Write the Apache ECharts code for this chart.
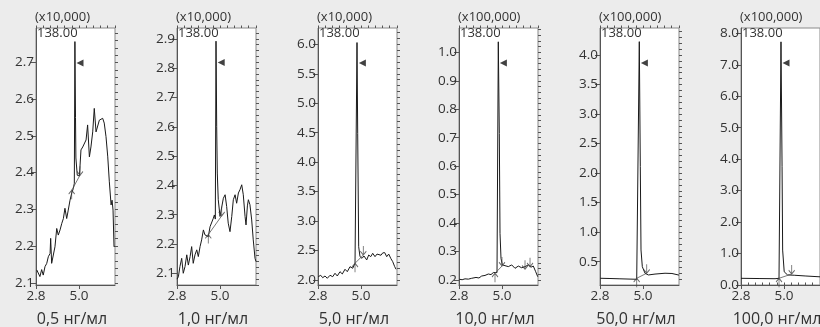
<!DOCTYPE html>
<html><head><meta charset="utf-8">
<script src="https://cdn.jsdelivr.net/npm/echarts@6/dist/echarts.min.js"></script>
<style>html,body{margin:0;padding:0;background:#ececec}#c{width:820px;height:327px}</style>
</head><body><div id="c"></div>
<script>
// ---------- data ----------
const concLabels = ['0,5 нг/мл','1,0 нг/мл','5,0 нг/мл','10,0 нг/мл','50,0 нг/мл','100,0 нг/мл'];
const scaleLabels = ['(x10,000)','(x10,000)','(x10,000)','(x100,000)','(x100,000)','(x100,000)'];
const ionLabel = '138.00';
const xTickLabels = [2.8, 5.0];

const p1YTicks = [2.1,2.2,2.3,2.4,2.5,2.6,2.7];
const p2YTicks = [2.1,2.2,2.3,2.4,2.5,2.6,2.7,2.8,2.9];
const p3YTicks = [2.0,2.5,3.0,3.5,4.0,4.5,5.0,5.5,6.0];
const p4YTicks = [0.2,0.3,0.4,0.5,0.6,0.7,0.8,0.9,1.0];
const p5YTicks = [0.5,1.0,1.5,2.0,2.5,3.0,3.5,4.0];
const p6YTicks = [0.0,1.0,2.0,3.0,4.0,5.0,6.0,7.0,8.0];

const p1Time = [2.84,2.92,3.00,3.09,3.17,3.26,3.35,3.43,3.52,3.55,3.60,3.69,3.77,3.86,3.94,4.03,4.12,4.20,4.28,4.37,4.45,4.54,4.63,4.71,4.76,4.79,4.82,4.84,4.91,5.02,5.10,5.19,5.27,5.36,5.44,5.53,5.61,5.70,5.78,5.87,5.96,6.04,6.13,6.21,6.29,6.38,6.47,6.55,6.64,6.69,6.74,6.79,6.83];
const p1Signal = [2.135,2.139,2.117,2.136,2.121,2.144,2.153,2.171,2.180,2.221,2.153,2.157,2.198,2.248,2.230,2.244,2.262,2.275,2.303,2.275,2.298,2.325,2.345,2.357,2.371,2.757,2.550,2.440,2.393,2.391,2.462,2.470,2.466,2.489,2.530,2.443,2.470,2.511,2.575,2.511,2.516,2.543,2.539,2.548,2.535,2.498,2.443,2.375,2.312,2.325,2.298,2.198,2.200];

const p2Time = [2.80,2.87,2.95,3.04,3.12,3.21,3.30,3.38,3.47,3.55,3.63,3.72,3.81,3.89,3.98,4.06,4.15,4.23,4.32,4.40,4.49,4.58,4.66,4.71,4.76,4.795,4.83,4.86,4.91,5.00,5.09,5.17,5.26,5.34,5.42,5.51,5.60,5.68,5.77,5.85,5.94,6.02,6.11,6.19,6.28,6.33,6.40,6.45,6.53,6.62,6.70,6.79,6.84];
const p2Signal = [2.080,2.088,2.123,2.151,2.100,2.123,2.163,2.128,2.157,2.191,2.134,2.163,2.180,2.157,2.191,2.214,2.248,2.231,2.237,2.225,2.259,2.262,2.288,2.299,2.285,2.892,2.600,2.442,2.351,2.294,2.299,2.356,2.368,2.328,2.271,2.242,2.294,2.351,2.368,2.339,2.374,2.385,2.402,2.368,2.294,2.265,2.330,2.351,2.334,2.282,2.214,2.151,2.140];

const p3Time = [2.815,2.938,3.04,3.158,3.276,3.414,3.552,3.67,3.787,3.925,4.043,4.181,4.299,4.437,4.575,4.693,4.76,4.795,4.83,4.88,4.948,5.051,5.153,5.291,5.393,5.496,5.598,5.716,5.818,5.905,6.022,6.109,6.212,6.314,6.416,6.519,6.621,6.723,6.79];
const p3Signal = [2.056,2.080,2.039,2.068,2.029,2.080,2.056,2.114,2.068,2.141,2.102,2.182,2.141,2.226,2.199,2.284,2.270,6.030,4.490,2.565,2.396,2.368,2.407,2.340,2.424,2.396,2.453,2.396,2.440,2.470,2.420,2.460,2.464,2.396,2.440,2.368,2.311,2.226,2.182];

const p4Time = [2.815,2.96,3.107,3.28,3.45,3.67,3.82,3.961,4.13,4.299,4.437,4.554,4.641,4.744,4.81,4.861,4.897,4.948,5.015,5.117,5.322,5.496,5.664,5.833,6.007,6.176,6.345,6.483,6.60,6.723,6.826];
const p4Signal = [0.2025,0.201,0.204,0.203,0.206,0.209,0.207,0.214,0.216,0.221,0.219,0.226,0.2235,0.226,1.037,0.715,0.364,0.276,0.253,0.247,0.247,0.253,0.241,0.249,0.243,0.247,0.253,0.245,0.249,0.229,0.2116];

const p5Time = [2.815,3.31,3.82,4.335,4.677,4.77,4.81,4.861,4.897,4.964,5.102,5.27,5.613,6.125,6.48,6.805,6.84];
const p5Signal = [0.219,0.215,0.210,0.205,0.202,0.210,4.226,2.109,0.698,0.415,0.304,0.275,0.290,0.304,0.300,0.275,0.270];

const p6Time = [2.80,3.77,4.54,4.744,4.80,4.845,4.90,4.93,5.01,5.18,5.52,6.12,6.84];
const p6Signal = [0.213,0.205,0.200,0.213,0.250,7.730,3.760,1.110,0.420,0.320,0.310,0.286,0.260];

// peak-top arrow markers [time, value]
const peakMarkTime = [5.05,5.06,5.07,5.07,5.07,5.10];
const peakMarkValue = [2.699,2.819,5.684,0.9625,3.865,7.057];
// integration start / end points [time, value]
const intStartTime = [4.626,4.40,4.693,4.641,4.677,4.744];
const intStartValue = [2.352,2.232,2.284,0.2235,0.219,0.213];
const intEndTime = [5.05,5.086,5.117,4.999,5.189,5.393];
const intEndValue = [2.393,2.296,2.424,0.249,0.304,0.350];
const extraMarkTime = [6.176,6.432];   // second pair of markers on 10,0 panel
const extraMarkValue = [0.2376,0.2467];

// ---------- axis ranges ----------
const xMin = 2.8, xMax = 6.84;
const yRanges = [[2.094,2.794],[2.06,2.937],[1.915,6.277],[0.1824,1.0855],[0.105,4.457],[0,8.17]];
const yMinorStep = [0.02,0.02,0.1,0.02,0.1,0.2];
const yTickSets = [p1YTicks,p2YTicks,p3YTicks,p4YTicks,p5YTicks,p6YTicks];
const times = [p1Time,p2Time,p3Time,p4Time,p5Time,p6Time];
const signals = [p1Signal,p2Signal,p3Signal,p4Signal,p5Signal,p6Signal];

// ---------- layout ----------
const gridLefts = [36,177,318,459,600,741];
const gridTop = 28, gridW = 79, gridH = 257;
const fam = 'Open Sans';
const font = '"Open Sans", sans-serif';
const txt = '#333';

function range(min,max,step,origin){
  const out=[]; let k=Math.ceil((min-origin)/step-1e-9);
  for(;origin+k*step<=max+1e-9;k++) out.push(+(origin+k*step).toFixed(5));
  return out;
}
const xMinor = range(xMin,xMax,2.2/6,2.8);

const richLbl = {t:{color:txt,fontSize:13.5,fontFamily:fam}};
const grid=[],xAxis=[],yAxis=[],series=[],graphic=[];
for(let i=0;i<6;i++){
  grid.push({left:gridLefts[i],top:gridTop,width:gridW,height:gridH,show:true,backgroundColor:'#fff',borderColor:'#8a8a8a',borderWidth:1,containLabel:false});
  const [ymin,ymax]=yRanges[i];
  const axLine={show:true,lineStyle:{color:'#555',width:1}};
  xAxis.push({gridIndex:i,type:'value',min:xMin,max:xMax,axisLine:axLine,splitLine:{show:false},
    axisTick:{show:true,customValues:xTickLabels,length:4,lineStyle:{color:'#555'}},
    axisLabel:{show:true,customValues:xTickLabels,formatter:v=>'{t|'+v.toFixed(1)+'}',rich:richLbl,color:txt,fontSize:13.5,fontFamily:fam,margin:4}});
  xAxis.push({gridIndex:i,type:'value',min:xMin,max:xMax,axisLine:{show:false},splitLine:{show:false},
    axisTick:{show:true,customValues:xMinor,length:2.5,lineStyle:{color:'#555'}},axisLabel:{show:false}});
  yAxis.push({gridIndex:i,type:'value',min:ymin,max:ymax,axisLine:axLine,splitLine:{show:false},
    axisTick:{show:true,customValues:yTickSets[i],length:5,lineStyle:{color:'#555'}},
    axisLabel:{show:true,customValues:yTickSets[i],formatter:v=>'{t|'+v.toFixed(1)+'}',rich:richLbl,color:txt,fontSize:13.5,fontFamily:fam,margin:2}});
  yAxis.push({gridIndex:i,type:'value',min:ymin,max:ymax,axisLine:{show:false},splitLine:{show:false},
    axisTick:{show:true,customValues:range(ymin,ymax,yMinorStep[i],0),length:3,lineStyle:{color:'#555'}},axisLabel:{show:false}});

  const xi=2*i, yi=2*i;
  series.push({type:'line',xAxisIndex:xi,yAxisIndex:yi,showSymbol:false,animation:false,
    data:times[i].map((t,k)=>[t,signals[i][k]]),lineStyle:{color:'#1a1a1a',width:1},z:3});
  // integration baseline
  series.push({type:'line',xAxisIndex:xi,yAxisIndex:yi,showSymbol:false,animation:false,
    data:[[intStartTime[i],intStartValue[i]],[intEndTime[i],intEndValue[i]]],lineStyle:{color:'#555',width:0.8},z:4});
  const arrow='path://M4,0L4,12M0,5L4,0L8,5';
  series.push({type:'scatter',xAxisIndex:xi,yAxisIndex:yi,animation:false,symbol:arrow,symbolSize:[6,9],symbolOffset:[0,4.5],
    itemStyle:{color:'rgba(0,0,0,0)',borderColor:'#444',borderWidth:1},data:[[intStartTime[i],intStartValue[i]]],z:5});
  const endPts=[[intEndTime[i],intEndValue[i]]];
  if(i===3) extraMarkTime.forEach((t,k)=>endPts.push([t,extraMarkValue[k]]));
  series.push({type:'scatter',xAxisIndex:xi,yAxisIndex:yi,animation:false,symbol:arrow,symbolSize:[6,9],symbolRotate:180,symbolOffset:[0,-4.5],
    itemStyle:{color:'rgba(0,0,0,0)',borderColor:'#444',borderWidth:1},data:endPts,z:5});
  series.push({type:'scatter',xAxisIndex:xi,yAxisIndex:yi,animation:false,symbol:'triangle',symbolRotate:90,symbolSize:[7,7],
    itemStyle:{color:'#111'},data:[[peakMarkTime[i],peakMarkValue[i]]],z:6});

  graphic.push({type:'text',left:gridLefts[i]-1,top:11,style:{text:scaleLabels[i],fill:txt,font:'13px '+font}});
  graphic.push({type:'text',left:gridLefts[i]+1,top:27,z:10,style:{text:ionLabel,fill:txt,font:'13px '+font}});
  graphic.push({type:'text',x:gridLefts[i]+36,y:319,style:{text:concLabels[i],fill:txt,font:'16px '+font,textAlign:'center',textVerticalAlign:'middle'}});
}

const chart=echarts.init(document.getElementById('c'),null,{renderer:'canvas'});
chart.setOption({backgroundColor:'#ececec',animation:false,grid,xAxis,yAxis,series,graphic});
</script></body></html>
